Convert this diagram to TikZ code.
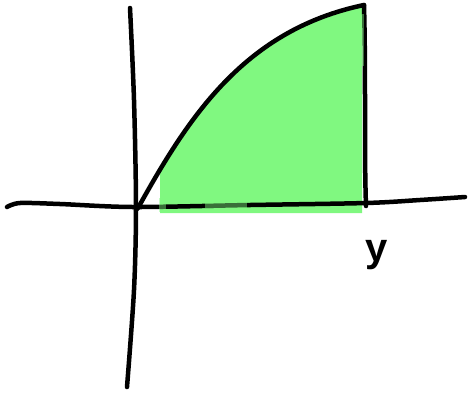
\documentclass[tikz,border=0pt]{standalone}
\usepackage{fontspec}
\setmainfont{Liberation Sans}
\definecolor{fillgreen}{RGB}{128,248,128}
\begin{document}
\begin{tikzpicture}[x=1pt,y=-1pt,
  ink/.style={line width=4.5pt,line cap=round,line join=round,black},
  area/.style={fill=fillgreen,draw=none},
  overlay green/.style={fill=fillgreen,fill opacity=0.45,draw=none}]
\useasboundingbox (0,0) rectangle (468,392);
\coordinate (o) at (138,208);
\coordinate (top) at (364,5);
\coordinate (bot) at (366,206);
% fill region under the curve
\begin{scope}
  \clip (160,0) rectangle (362,213);
  \fill[area] (o) .. controls (188,118) and (244,30) .. (top) -- (364,213) -- (138,213) -- cycle;
\end{scope}
% axes
\draw[ink] plot[smooth,tension=0.5] coordinates {(7,207) (20,203) (60,204) (133,207) (250,205) (366,203) (420,200) (465,197)};
\draw[ink] plot[smooth,tension=0.5] coordinates {(130,8) (134,100) (136,207) (134,290) (127,387)};
% curve
\draw[ink] (136,210) -- (o) .. controls (188,118) and (244,30) .. (top);
% vertical line at y
\draw[ink] (top) .. controls (366,80) and (364,150) .. (bot);
% green strokes over the lines
\fill[overlay green] (159,198) rectangle (166,212);
\fill[overlay green] (205,201) rectangle (247,208);
\fill[overlay green] (357,14) rectangle (364,66);
\node[font=\bfseries\fontsize{40}{40}\selectfont] (lab) at (377,255) {y};
\end{tikzpicture}
\end{document}
